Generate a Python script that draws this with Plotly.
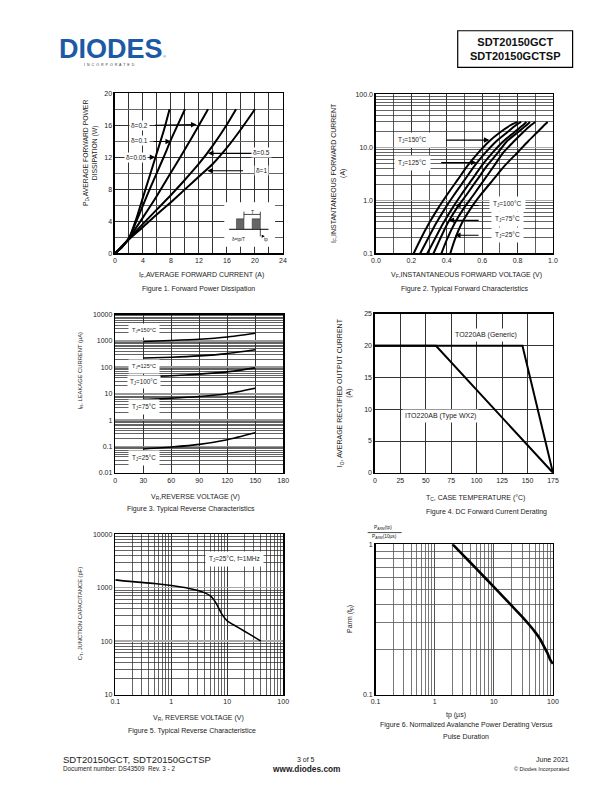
import plotly.graph_objects as go

FONT = "Liberation Sans, Arial, sans-serif"
W, H = 612, 792

# ---------------- data ----------------
# Figure 1: forward power dissipation P_D (W) vs average forward current I_F (A)
f1_i_d005 = [0, 1, 2, 3, 4, 5, 6, 7, 7.8]
f1_p_d005 = [0, 0.8, 1.9, 4.2, 7.0, 9.8, 12.6, 15.4, 18]
f1_i_d01 = [0, 1, 2, 3, 4, 5, 6, 7, 8, 9, 10]
f1_p_d01 = [0, 0.8, 1.9, 3.9, 6.0, 8.1, 10.1, 12.1, 14.2, 16.1, 18]
f1_i_d02 = [0, 1, 2, 4, 6, 8, 10, 12, 13.3]
f1_p_d02 = [0, 0.8, 1.9, 4.5, 7.2, 10.1, 13.0, 16.0, 18]
f1_i_d05 = [0, 2, 4, 6, 8, 10, 12, 14, 16, 17.3]
f1_p_d05 = [0, 1.85, 3.7, 5.5, 7.3, 9.2, 11.2, 13.5, 16.1, 18]
f1_i_d1 = [0, 2, 4, 6, 8, 10, 12, 14, 16, 18, 20]
f1_p_d1 = [0, 1.75, 3.3, 4.9, 6.4, 8.0, 9.6, 11.2, 13.2, 15.5, 18]
f1_xticks = [0, 4, 8, 12, 16, 20, 24]
f1_yticks = [0, 4, 8, 12, 16, 20]

# Figure 2: forward current I_F (A) vs forward voltage V_F (V) per junction temperature
f2_if = [0.1, 0.18, 0.37, 0.7, 1.25, 2.4, 4.6, 8, 13, 19, 26, 30]
f2_vf_150 = [0.213, 0.25, 0.30, 0.35, 0.40, 0.46, 0.52, 0.58, 0.64, 0.70, 0.76, 0.80]
f2_vf_125 = [0.25, 0.29, 0.34, 0.39, 0.44, 0.50, 0.56, 0.62, 0.68, 0.74, 0.79, 0.82]
f2_vf_100 = [0.29, 0.33, 0.38, 0.43, 0.48, 0.54, 0.60, 0.66, 0.72, 0.78, 0.83, 0.85]
f2_vf_75 = [0.325, 0.36, 0.405, 0.455, 0.51, 0.57, 0.63, 0.69, 0.74, 0.80, 0.85, 0.87]
f2_vf_50 = [0.37, 0.40, 0.445, 0.495, 0.55, 0.61, 0.67, 0.72, 0.78, 0.83, 0.875, 0.90]
f2_vf_25 = [0.42, 0.445, 0.485, 0.535, 0.59, 0.66, 0.73, 0.80, 0.86, 0.91, 0.95, 0.97]
f2_xticks = [0.0, 0.2, 0.4, 0.6, 0.8, 1.0]
f2_yticks = [0.1, 1, 10, 100]
f2_yticktext = ["0.1", "1.0", "10.0", "100.0"]

# Figure 3: leakage current I_R (uA) vs reverse voltage V_R (V)
f3_vr = [30, 60, 90, 120, 150]
f3_ir_150 = [950, 1030, 1150, 1400, 1950]
f3_ir_125 = [225, 240, 270, 330, 460]
f3_ir_100 = [45, 48, 55, 67, 95]
f3_ir_75 = [6.1, 6.7, 7.8, 10, 16]
f3_ir_25 = [0.08, 0.095, 0.12, 0.18, 0.33]
f3_xticks = [0, 30, 60, 90, 120, 150, 180]
f3_yticks = [0.01, 0.1, 1, 10, 100, 1000, 10000]
f3_yticktext = ["0.01", "0.1", "1", "10", "100", "1000", "10000"]

# Figure 4: DC forward current derating
f4_tc_generic = [0, 145, 175]
f4_io_generic = [20, 20, 0]
f4_tc_ito = [0, 60, 175]
f4_io_ito = [20, 20, 0]
f4_xticks = [0, 25, 50, 75, 100, 125, 150, 175]
f4_yticks = [0, 5, 10, 15, 20, 25]

# Figure 5: junction capacitance C_T (pF) vs reverse voltage V_R (V)
f5_vr = [0.1, 0.2, 0.5, 1, 2, 3, 4, 5, 6, 7, 8, 10, 15, 20, 30, 40]
f5_ct = [1400, 1300, 1200, 1100, 980, 890, 800, 700, 560, 420, 320, 240, 185, 155, 120, 100]
f5_xticks = [0.1, 1, 10, 100]
f5_xticktext = ["0.1", "1", "10", "100"]
f5_yticks = [10, 100, 1000, 10000]
f5_yticktext = ["10", "100", "1000", "10000"]

# Figure 6: normalized avalanche power vs pulse duration
f6_tp = [2, 3, 5, 10, 20, 30, 40, 50, 60, 70, 80, 90, 100]
f6_parm = [1, 0.85, 0.69, 0.52, 0.39, 0.33, 0.29, 0.26, 0.235, 0.21, 0.19, 0.17, 0.16]
f6_xticks = [0.1, 1, 10, 100]
f6_xticktext = ["0.1", "1", "10", "100"]
f6_yticks = [0.1, 1]
f6_yticktext = ["0.1", "1"]

# ---------------- helpers ----------------
def P(x, y):
    return x / W, 1 - y / H

annotations = []
shapes = []

def text(t, x, y, size=7, bg=None, xanchor="center", yanchor="middle", angle=0,
         color="#222", pad=1, family=FONT):
    ax, ay = P(x, y)
    d = dict(text=t, x=ax, y=ay, xref="paper", yref="paper", showarrow=False,
             font=dict(family=family, size=size, color=color),
             xanchor=xanchor, yanchor=yanchor, textangle=angle)
    if bg:
        d.update(bgcolor=bg, borderpad=pad)
    annotations.append(d)

def arrow(tip, tail, w=1.1):
    x, y = P(*tip)
    annotations.append(dict(text="", x=x, y=y, xref="paper", yref="paper", showarrow=True,
                            ax=tail[0] - tip[0], ay=tail[1] - tip[1], axref="pixel", ayref="pixel",
                            arrowhead=2, arrowsize=1, arrowwidth=w, arrowcolor="black"))

def rect(x0, y0, x1, y1, fill=None, line=None, lw=1):
    shapes.append(dict(type="rect", xref="paper", yref="paper", x0=x0 / W, x1=x1 / W,
                       y0=1 - y1 / H, y1=1 - y0 / H,
                       fillcolor=fill if fill else "rgba(0,0,0,0)",
                       line=dict(color=line if line else "rgba(0,0,0,0)", width=lw if line else 0),
                       layer="above"))

def seg(x0, y0, x1, y1, color="black", w=1):
    shapes.append(dict(type="line", xref="paper", yref="paper", x0=x0 / W, x1=x1 / W,
                       y0=1 - y0 / H, y1=1 - y1 / H, line=dict(color=color, width=w), layer="above"))

fig = go.Figure()

def line(x, y, n, width=2, smooth=True):
    xa = "x" if n == 1 else f"x{n}"
    ya = "y" if n == 1 else f"y{n}"
    ln = dict(color="black", width=width)
    if smooth:
        ln.update(shape="spline", smoothing=0.6)
    fig.add_trace(go.Scatter(x=x, y=y, mode="lines", line=ln, xaxis=xa, yaxis=ya,
                             showlegend=False, hoverinfo="skip"))

# Figure 1
for xs, ys in [(f1_i_d005, f1_p_d005), (f1_i_d01, f1_p_d01), (f1_i_d02, f1_p_d02),
               (f1_i_d05, f1_p_d05), (f1_i_d1, f1_p_d1)]:
    line(xs, ys, 1, 2)
# Figure 2
for vf in [f2_vf_150, f2_vf_125, f2_vf_100, f2_vf_75, f2_vf_50, f2_vf_25]:
    line(vf, f2_if, 2, 2)
# Figure 3
for ir in [f3_ir_150, f3_ir_125, f3_ir_100, f3_ir_75, f3_ir_25]:
    line(f3_vr, ir, 3, 1.6)
# Figure 4
line(f4_tc_generic, f4_io_generic, 4, 2, smooth=False)
line(f4_tc_ito, f4_io_ito, 4, 2, smooth=False)
# Figure 5
line(f5_vr, f5_ct, 5, 1.6)
# Figure 6
line(f6_tp, f6_parm, 6, 2.6)

# ---------------- axes ----------------
dom = {
    1: ([112, 283], [90, 251.7]),
    2: ([377.7, 558], [91, 251.7]),
    3: ([112.3, 283.3], [313.3, 473]),
    4: ([376.7, 558], [312.7, 473]),
    5: ([112.3, 283.3], [535, 696.7]),
    6: ([377.3, 558], [545, 696.7]),
}

TICKFONT = dict(family=FONT, size=7, color="#222")
GRID = "#333"

def base_axis(n, which):
    (xa, ya) = dom[n]
    if which == "x":
        d = dict(domain=[xa[0] / W, xa[1] / W], anchor="y" if n == 1 else f"y{n}")
    else:
        d = dict(domain=[1 - ya[1] / H, 1 - ya[0] / H], anchor="x" if n == 1 else f"x{n}")
    d.update(showline=True, mirror=True, linecolor="black", linewidth=1.5, ticks="",
             tickfont=TICKFONT, zeroline=False, showgrid=True, gridcolor=GRID, gridwidth=1,
             fixedrange=True)
    return d

axes = {}
def setax(n, which, **kw):
    d = base_axis(n, which)
    d.update(kw)
    key = f"{which}axis" if n == 1 else f"{which}axis{n}"
    axes[key] = d

LOGMINOR = dict(dtick="D1", showgrid=True, gridcolor="#222", gridwidth=0.7, ticks="")

setax(1, "x", range=[0, 24], tickmode="array", tickvals=f1_xticks,
      minor=dict(dtick=2, showgrid=True, gridcolor=GRID, gridwidth=1))
setax(1, "y", range=[0, 20], tickmode="array", tickvals=f1_yticks,
      minor=dict(dtick=2, showgrid=True, gridcolor="#666", gridwidth=1))

setax(2, "x", range=[0, 1.0], tickmode="array", tickvals=f2_xticks,
      ticktext=[f"{v:.1f}" for v in f2_xticks],
      minor=dict(dtick=0.1, showgrid=True, gridcolor=GRID, gridwidth=0.8))
setax(2, "y", type="log", range=[-1, 2], tickmode="array", tickvals=f2_yticks,
      ticktext=f2_yticktext, gridcolor="#aaa", gridwidth=1.5, minor=LOGMINOR)

setax(3, "x", range=[0, 180], tickmode="array", tickvals=f3_xticks)
setax(3, "y", type="log", range=[-2, 4], tickmode="array", tickvals=f3_yticks,
      ticktext=f3_yticktext, gridcolor="#999", gridwidth=1.8, minor=LOGMINOR)

setax(4, "x", range=[0, 175], tickmode="array", tickvals=f4_xticks)
setax(4, "y", range=[0, 25], tickmode="array", tickvals=f4_yticks)

setax(5, "x", type="log", range=[-1, 2], tickmode="array", tickvals=f5_xticks,
      ticktext=f5_xticktext, minor=LOGMINOR)
setax(5, "y", type="log", range=[1, 4], tickmode="array", tickvals=f5_yticks,
      ticktext=f5_yticktext, gridcolor="#aaa", gridwidth=1.5, minor=LOGMINOR)

setax(6, "x", type="log", range=[-1, 2], tickmode="array", tickvals=f6_xticks,
      ticktext=f6_xticktext, gridcolor="#555",
      minor=dict(dtick="D1", showgrid=True, gridcolor="#555", gridwidth=0.8))
setax(6, "y", type="log", range=[-1, 0], tickmode="array", tickvals=f6_yticks,
      ticktext=f6_yticktext, gridcolor="#555",
      minor=dict(dtick="D1", showgrid=True, gridcolor="#555", gridwidth=0.8))

# ---------------- texts ----------------
# header
text("<b>DIODES</b>", 108, 45, size=27, color="#1c5aa6")
seg(57, 45.5, 161, 45.5, color="white", w=1.3)
text("I  N  C  O  R  P  O  R  A  T  E  D", 106, 61.5, size=3.6, color="#333")
text("®", 162, 53, size=4, color="#1c5aa6")
rect(461, 27, 578, 64, line="black", lw=1.2)
text("<b>SDT20150GCT<br>SDT20150GCTSP</b>", 519.5, 45.5, size=11, color="#111")

# Figure 1 texts
text("I<sub>F</sub>,AVERAGE FORWARD CURRENT (A)", 200, 273, size=7)
text("Figure 1. Forward Power Dissipation", 197, 288, size=7)
text("P<sub>D</sub>,AVERAGE FORWARD POWER<br>DISSIPATION (W)", 87, 150, size=6.8, angle=-90)
text("δ=0.2", 136.7, 122.3, size=6.5, bg="white")
text("δ=0.1", 136.7, 137.3, size=6.5, bg="white")
text("δ=0.05", 133.3, 154.7, size=6.5, bg="white")
text("δ=0.5", 261.7, 150, size=6.5, bg="white")
text("δ=1", 260.7, 168.3, size=6.5, bg="white")
arrow((195, 121.7), (151.7, 122.3))
arrow((169, 138.7), (150, 138.7))
arrow((153, 154.7), (146, 154.7))
arrow((206.7, 150.7), (251.7, 150.7))
arrow((206, 168.3), (243.3, 168.3))
# inset
rect(223.3, 200, 275, 245, fill="white")
seg(228.3, 227.3, 268.3, 227.3, w=1)
rect(235.7, 216.7, 243.3, 227.3, fill="#666", line="#222", lw=0.5)
rect(251.7, 216.7, 260, 227.3, fill="#666", line="#222", lw=0.5)
seg(243.3, 209.5, 243.3, 216.7, w=0.7)
seg(260, 209.5, 260, 216.7, w=0.7)
seg(243.3, 212.3, 260, 212.3, w=0.7)
seg(260, 227.3, 260, 234.5, w=0.7)
text("T", 251.7, 209.8, size=5)
text("δ=tp/T", 237.5, 237.5, size=4.6)
text("tp", 266, 237.5, size=4.6)
arrow((264.5, 234.3), (260, 234.3), w=0.6)

# Figure 2 texts
text("V<sub>F</sub>,INSTANTANEOUS FORWARD VOLTAGE (V)", 470, 273, size=7)
text("Figure 2. Typical Forward Characteristics", 468, 288, size=7)
text("I<sub>F</sub>,INSTANTANEOUS FORWARD CURRENT<br>(A)", 339.5, 170, size=7, angle=-90)
text("T<sub>J</sub>=150°C", 415, 137.3, size=6.5, bg="white", pad=3)
text("T<sub>J</sub>=125°C", 415, 160, size=6.5, bg="white", pad=3)
text("T<sub>J</sub>=100°C", 511.7, 201.7, size=6.5, bg="white", pad=3)
text("T<sub>J</sub>=75°C", 511.7, 217.3, size=6.5, bg="white", pad=3)
text("T<sub>J</sub>=25°C", 511.7, 233.3, size=6.5, bg="white", pad=3)
arrow((493.3, 137.3), (448.3, 137.3))
arrow((480, 160), (443.3, 160))
arrow((458.3, 203.3), (483.3, 203.3))
arrow((451.7, 218.3), (483.3, 218.3))
arrow((458.3, 233.3), (483.3, 233.3))

# Figure 3 texts
text("V<sub>R</sub>,REVERSE VOLTAGE (V)", 194, 497, size=7)
text("Figure 3. Typical Reverse Characteristics", 189, 510, size=7)
text("I<sub>R</sub>, LEAKAGE CURRENT (µA)", 77, 370, size=5.8, angle=-90)
text("T<sub>J</sub>=150°C", 141.7, 329.3, size=5.5, bg="white", pad=3)
text("T<sub>J</sub>=125°C", 141.7, 366, size=5.5, bg="white", pad=3)
text("T<sub>J</sub>=100°C", 141.7, 381.7, size=6.3, bg="white", pad=2)
text("T<sub>J</sub>=75°C", 141.7, 406.7, size=6.3, bg="white", pad=3)
text("T<sub>J</sub>=25°C", 141.7, 458.3, size=6.3, bg="white", pad=3)

# Figure 4 texts
text("T<sub>C</sub>, CASE TEMPERATURE (°C)", 479, 498, size=7)
text("Figure 4. DC Forward Current Derating", 490, 513, size=7)
text("I<sub>O</sub>, AVERAGE RECTIFIED OUTPUT CURRENT<br>(A)", 346, 392, size=7, angle=-90)
text("TO220AB (Generic)", 489.3, 334.3, size=7, bg="white", pad=2)
text("ITO220AB (Type WX2)", 443.3, 416, size=7, bg="white", pad=2)

# Figure 5 texts
text("V<sub>R</sub>, REVERSE VOLTAGE (V)", 197, 720, size=7)
text("Figure 5. Typical Reverse Characteristice", 190, 733, size=7)
text("C<sub>T</sub>, JUNCTION CAPACITANCE (pF)", 77, 615, size=5.8, angle=-90)
text("T<sub>J</sub>=25°C, f=1MHz", 233.3, 560, size=6.5, bg="white", pad=3)

# Figure 6 texts
text("tp (µs)", 459, 717, size=7)
text("Figure 6. Normalized Avalanche Power Derating Versus", 470, 727.5, size=7)
text("Pulse Duration", 469, 739, size=7)
text("Parm (t<sub>p</sub>)", 350.7, 620, size=7, angle=-90)
text("P<sub>ARM</sub>(tp)", 385, 528.5, size=4.8)
seg(369.3, 533.3, 404, 533.3, w=0.7)
text("P<sub>ARM</sub>(10µs)", 386.7, 537.5, size=4.8)

# footer
text("SDT20150GCT, SDT20150GCTSP", 57, 762, size=9.5, xanchor="left")
text("Document number: DS43509  Rev. 3 - 2", 57, 771.5, size=6.3, xanchor="left")
text("3 of 5", 306, 762, size=7)
text("<b>www.diodes.com</b>", 306, 771.5, size=8.3)
text("June 2021", 576, 762, size=7, xanchor="right")
text("© Diodes Incorporated", 576, 771.5, size=5.5, xanchor="right")

fig.update_layout(width=W, height=H, autosize=False,
                  margin=dict(l=0, r=0, t=0, b=0, pad=0),
                  paper_bgcolor="white", plot_bgcolor="white",
                  font=dict(family=FONT, size=7, color="#222"),
                  showlegend=False, annotations=annotations, shapes=shapes, **axes)

fig.write_html("out.html", config=dict(displayModeBar=False, staticPlot=True))
